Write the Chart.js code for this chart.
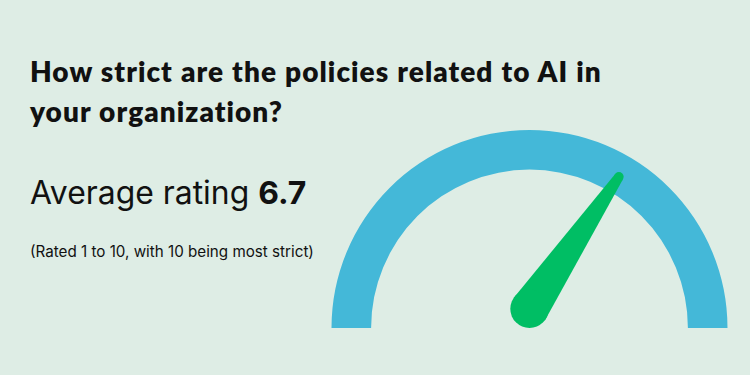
<!DOCTYPE html>
<html>
<head>
<meta charset="utf-8">
<script src="https://cdn.jsdelivr.net/npm/chart.js@4"></script>
<style>
  html, body { margin: 0; padding: 0; }
  body { width: 750px; height: 375px; background: #deede5; position: relative; overflow: hidden; }
  #wrap { position: absolute; left: 0; top: 0; width: 750px; height: 375px; }
  .txt { position: absolute; left: 30px; color: #111; white-space: nowrap; }
  #title { top: 51px; font: 800 28px Lato, sans-serif; line-height: 40px; letter-spacing: 1.05px; word-spacing: 0.5px; }
  #avg { top: 177px; font: 400 31.9px Inter, sans-serif; line-height: 32px; }
  #avg b { font-weight: 700; }
  #note { top: 244px; font: 400 15.2px Inter, sans-serif; line-height: 15px; }
</style>
</head>
<body>
<div class="txt" id="title">How strict are the policies related to AI in<br>your organization?</div>
<div class="txt" id="avg">Average rating <b id="avgVal"></b></div>
<div class="txt" id="note">(Rated 1 to 10, with 10 being most strict)</div>
<div id="wrap"><canvas id="chart"></canvas></div>
<script>
(function () {
    // gauge data
    var scaleMax = 10;
    var average = 6.7;

    var gaugeColor = '#44b8d8';
    var needleColor = '#00be64';

    document.getElementById('avgVal').textContent = average.toFixed(1);

    // needle angle taken from the arc the library laid out
    var needle = {
        id: 'needle',
        afterDatasetsDraw: function (chart) {
            var arc = chart.getDatasetMeta(0).data[0];
            var ctx = chart.ctx;
            var R = arc.outerRadius;
            var a = arc.startAngle + (arc.endAngle - arc.startAngle) * average / scaleMax;
            var tip = { x: arc.x + Math.cos(a) * R * 0.887, y: arc.y + Math.sin(a) * R * 0.887 };
            var rb = R * 0.097, rt = R * 0.024;
            var base = { x: arc.x, y: arc.y - rb };
            var ang = Math.atan2(tip.y - base.y, tip.x - base.x);
            var px = -Math.sin(ang), py = Math.cos(ang);
            ctx.save();
            ctx.fillStyle = needleColor;
            ctx.beginPath();
            ctx.moveTo(base.x + px * rb, base.y + py * rb);
            ctx.lineTo(tip.x + px * rt, tip.y + py * rt);
            ctx.lineTo(tip.x - px * rt, tip.y - py * rt);
            ctx.lineTo(base.x - px * rb, base.y - py * rb);
            ctx.closePath();
            ctx.fill();
            ctx.beginPath();
            ctx.arc(base.x, base.y, rb, 0, Math.PI * 2);
            ctx.fill();
            ctx.beginPath();
            ctx.arc(tip.x, tip.y, rt, 0, Math.PI * 2);
            ctx.fill();
            ctx.restore();
        }
    };

    var ctx = document.getElementById('chart').getContext('2d');
    new Chart(ctx, {
        type: 'doughnut',
        data: {
            labels: ['Scale'],
            datasets: [{
                data: [scaleMax],
                backgroundColor: gaugeColor,
                borderWidth: 0
            }]
        },
        options: {
            responsive: true,
            maintainAspectRatio: false,
            animation: false,
            rotation: -90,
            circumference: 180,
            cutout: '80%',
            layout: { padding: { left: 331, right: 22, top: 130, bottom: 47 } },
            plugins: {
                legend: { display: false },
                tooltip: { enabled: false }
            }
        },
        plugins: [needle]
    });
})();
</script>
</body>
</html>
